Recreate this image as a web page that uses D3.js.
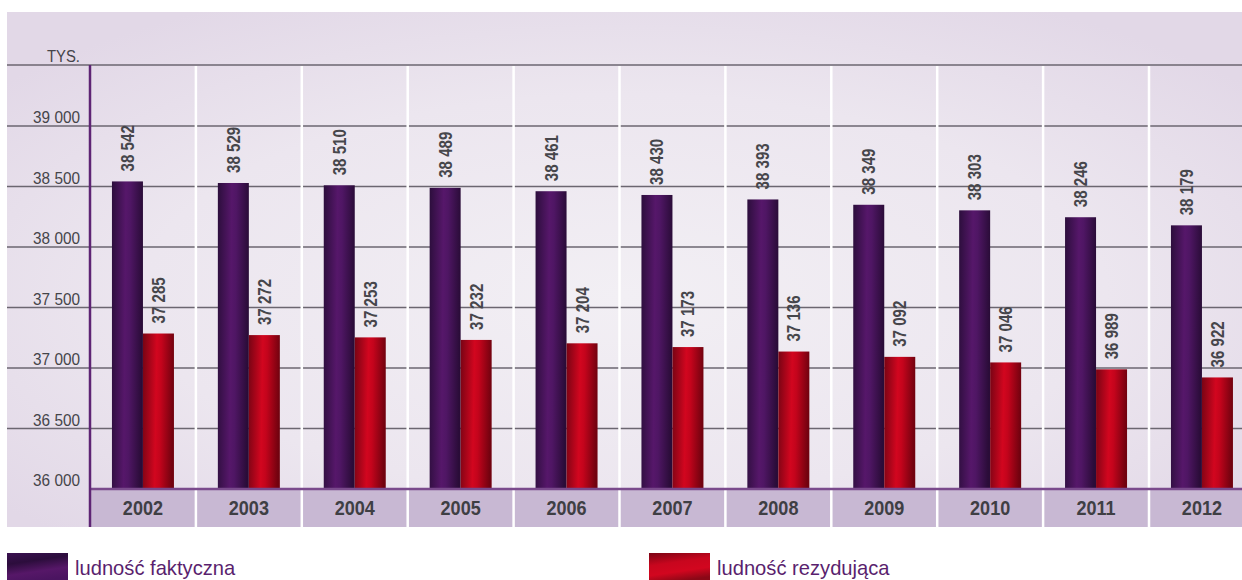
<!DOCTYPE html>
<html><head><meta charset="utf-8">
<script src="https://cdn.jsdelivr.net/npm/d3@7"></script>
<style>
html,body{margin:0;padding:0;background:#fff;overflow:hidden}
svg{display:block}
text{font-family:"Liberation Sans",Arial,sans-serif}
</style></head><body>
<script>
const years = ["2002","2003","2004","2005","2006","2007","2008","2009","2010","2011","2012"];
const faktyczna = [38542,38529,38510,38489,38461,38430,38393,38349,38303,38246,38179];
const rezydujaca = [37285,37272,37253,37232,37204,37173,37136,37092,37046,36989,36922];
const yTicks = [36000,36500,37000,37500,38000,38500,39000];
const seriesNames = ["ludność faktyczna","ludność rezydująca"];

const W = 1242, H = 580;
const svg = d3.select("body").append("svg").attr("width",W).attr("height",H);
const defs = svg.append("defs");

const bg = defs.append("radialGradient").attr("id","bg").attr("cx","50%").attr("cy","55%").attr("r","65%");
bg.append("stop").attr("offset","0%").attr("stop-color","#f2eff4");
bg.append("stop").attr("offset","60%").attr("stop-color","#ece6ef");
bg.append("stop").attr("offset","100%").attr("stop-color","#e2d8e7");

function barGrad(id, stops){
  const g = defs.append("linearGradient").attr("id",id).attr("x1","0").attr("x2","1").attr("y1","0").attr("y2","0.08");
  stops.forEach(s=>g.append("stop").attr("offset",s[0]).attr("stop-color",s[1]));
}
barGrad("gP",[["0%","#2c0e3c"],["45%","#56176a"],["60%","#4f1664"],["100%","#2a0c38"]]);
barGrad("gR",[["0%","#780414"],["45%","#d2061f"],["60%","#c4041c"],["100%","#72020f"]]);
function legGrad(id, stops){
  const g = defs.append("linearGradient").attr("id",id).attr("x1","0").attr("x2","0.3").attr("y1","0").attr("y2","1");
  stops.forEach(s=>g.append("stop").attr("offset",s[0]).attr("stop-color",s[1]));
}
legGrad("lP",[["0%","#3a1150"],["35%","#2c0d3c"],["70%","#561768"],["100%","#4a1460"]]);
legGrad("lR",[["0%","#7a0414"],["40%","#c8061e"],["70%","#d2061f"],["100%","#8a0816"]]);

// panel
svg.append("rect").attr("x",7).attr("y",12).attr("width",W-7).attr("height",515).attr("fill","url(#bg)");

const x0 = 90, colW = 105.9;
const x = d3.scaleBand().domain(years).range([x0, x0+colW*years.length]).paddingInner(0).paddingOuter(0);
const y = d3.scaleLinear().domain([36000,39000]).range([489,126]);
const topY = 65;

// category band
svg.append("rect").attr("x",x0).attr("y",490).attr("width",W-x0).attr("height",37).attr("fill","#c8b8d3");

// gridlines
const grid = yTicks.slice(1).map(v=>y(v)).concat([topY]);
svg.append("g").selectAll("line").data(grid).join("line")
  .attr("x1",7).attr("x2",W).attr("y1",d=>d).attr("y2",d=>d)
  .attr("stroke","#6b6670").attr("stroke-width",1.5);

// white separators
svg.append("g").selectAll("line").data(years.slice(1)).join("line")
  .attr("x1",d=>x(d)).attr("x2",d=>x(d)).attr("y1",topY+1).attr("y2",527)
  .attr("stroke","#ffffff").attr("stroke-width",2.5);

// bars
const bw = 31;
const gBars = svg.append("g");
gBars.selectAll(".bp").data(years).join("rect")
  .attr("x",d=>x(d)+x.bandwidth()/2-bw).attr("width",bw)
  .attr("y",(d,i)=>y(faktyczna[i])).attr("height",(d,i)=>y(36000)-y(faktyczna[i]))
  .attr("fill","url(#gP)");
gBars.selectAll(".br").data(years).join("rect")
  .attr("x",d=>x(d)+x.bandwidth()/2).attr("width",bw)
  .attr("y",(d,i)=>y(rezydujaca[i])).attr("height",(d,i)=>y(36000)-y(rezydujaca[i]))
  .attr("fill","url(#gR)");

// value labels
const fmt = v => d3.format(",")(v).replace(",", " ");
function vlabels(vals, dx){
  svg.append("g").selectAll("text").data(years).join("text")
    .attr("transform",(d,i)=>`translate(${x(d)+x.bandwidth()/2+dx},${y(vals[i])-10}) rotate(-90) scale(0.84,1)`)
    .attr("text-anchor","start").attr("dy","0.36em")
    .attr("font-size",18).attr("font-weight","bold").attr("fill","#46464b")
    .text((d,i)=>fmt(vals[i]));
}
vlabels(faktyczna, -bw/2);
vlabels(rezydujaca, bw/2);

// axes lines
svg.append("line").attr("x1",x0).attr("x2",W).attr("y1",489).attr("y2",489).attr("stroke","#7a4a8c").attr("stroke-width",2.5);
svg.append("line").attr("x1",x0).attr("x2",x0).attr("y1",topY).attr("y2",527).attr("stroke","#5e2474").attr("stroke-width",2.5);

// y tick labels
svg.append("g").selectAll("text").data(yTicks).join("text")
  .attr("transform",d=>`translate(80,${y(d)-3}) scale(0.93,1)`).attr("text-anchor","end")
  .attr("font-size",16.5).attr("fill","#45454a")
  .text(d=>fmt(d));
svg.append("text").attr("transform","translate(80,62) scale(0.9,1)").attr("text-anchor","end")
  .attr("font-size",16.5).attr("fill","#45454a").text("TYS.");

// year labels
svg.append("g").selectAll("text").data(years).join("text")
  .attr("transform",d=>`translate(${x(d)+x.bandwidth()/2},515) scale(0.86,1)`).attr("text-anchor","middle")
  .attr("font-size",21).attr("font-weight","bold").attr("fill","#3f3f44")
  .text(d=>d);

// legend
const leg = [{n:seriesNames[0],f:"url(#lP)",x:7},{n:seriesNames[1],f:"url(#lR)",x:649}];
const lg = svg.append("g").selectAll("g").data(leg).join("g").attr("transform",d=>`translate(${d.x},553)`);
lg.append("rect").attr("width",61).attr("height",30).attr("fill",d=>d.f);
lg.append("text").attr("transform","translate(68,22) scale(0.96,1)").attr("font-size",21).attr("fill","#5a1f6e").text(d=>d.n);
</script>
</body></html>
